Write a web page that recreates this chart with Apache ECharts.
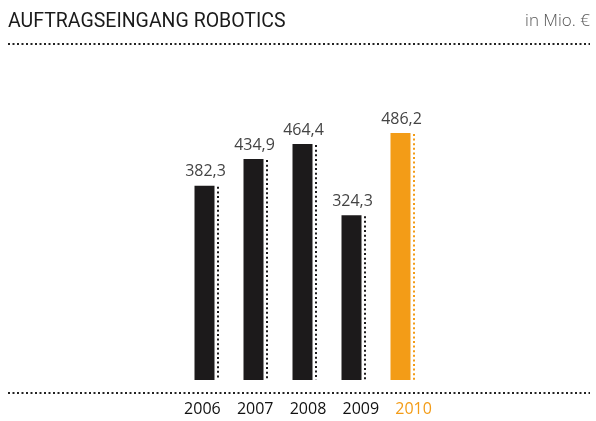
<!DOCTYPE html>
<html>
<head>
<meta charset="utf-8">
<script src="https://cdn.jsdelivr.net/npm/echarts@6/dist/echarts.min.js"></script>
<style>
  html, body { margin: 0; padding: 0; background: #fff; }
  #chart { width: 596px; height: 421px; }
</style>
</head>
<body>
<div id="chart"></div>
<script>
// Auftragseingang Robotics, in Mio. €
const years = ['2006', '2007', '2008', '2009', '2010'];
const orders = [382.3, 434.9, 464.4, 324.3, 486.2];
const labelsText = ['382,3', '434,9', '464,4', '324,3', '486,2'];

const BLACK = '#1c1a1b';
const ORANGE = '#f39c17';
const barColors = years.map((y, i) => i === years.length - 1 ? ORANGE : BLACK);

const chart = echarts.init(document.getElementById('chart'), null, { renderer: 'canvas' });

// dotted guide drawn along the right edge of each bar
function renderGuide(params, api) {
  const idx = api.value(0);
  const top = api.coord([idx, api.value(1)]);
  const base = api.coord([idx, 0]);
  const x = top[0] + 10 + 3.5;
  return {
    type: 'line',
    shape: { x1: x, y1: top[1] + 1, x2: x, y2: base[1] },
    style: {
      stroke: barColors[idx],
      lineWidth: 2,
      lineDash: [2, 2.6]
    }
  };
}

function dottedRule(y) {
  return {
    type: 'line',
    shape: { x1: 8, y1: y, x2: 590, y2: y },
    style: { stroke: '#222', lineWidth: 2, lineDash: [2, 2.5] },
    silent: true
  };
}

chart.setOption({
  animation: false,
  backgroundColor: '#fff',
  title: [{
    text: 'AUFTRAGSEINGANG ROBOTICS',
    left: 8, top: 12, padding: 0,
    textStyle: { fontFamily: 'Roboto', fontSize: 19.5, fontWeight: 'normal', color: '#1a1a1a' }
  }, {
    text: 'in Mio. €',
    right: 6, top: 13, padding: 0,
    textStyle: { fontFamily: 'Open Sans', fontSize: 17, fontWeight: 300, color: '#555' }
  }],
  graphic: [dottedRule(44), dottedRule(393)],
  grid: [
    { left: 180, width: 245, top: 126, bottom: 41, containLabel: false },
    { left: 176, width: 264, top: 126, bottom: 41, containLabel: false }
  ],
  xAxis: [{
    type: 'category',
    data: years,
    gridIndex: 0,
    axisLine: { show: false },
    axisTick: { show: false },
    axisLabel: { show: false }
  }, {
    type: 'category',
    data: years,
    gridIndex: 1,
    axisLine: { show: false },
    axisTick: { show: false },
    axisLabel: {
      margin: 21,
      fontFamily: 'Open Sans',
      fontSize: 16,
      color: (v, i) => barColors[i] === ORANGE ? ORANGE : '#111'
    }
  }],
  yAxis: [{
    type: 'value', min: 0, max: 500, gridIndex: 0, show: false
  }, {
    type: 'value', min: 0, max: 500, gridIndex: 1, show: false
  }],
  series: [{
    type: 'bar',
    data: orders.map((v, i) => ({ value: v, itemStyle: { color: barColors[i] } })),
    barWidth: 20,
    label: {
      show: true,
      position: 'top',
      distance: 6,
      offset: [1, 0],
      fontFamily: 'Open Sans',
      fontSize: 16,
      color: '#444',
      formatter: p => labelsText[p.dataIndex]
    }
  }, {
    type: 'custom',
    renderItem: renderGuide,
    data: orders.map((v, i) => [i, v]),
    encode: { x: 0, y: 1 },
    silent: true
  }]
});
</script>
</body>
</html>
